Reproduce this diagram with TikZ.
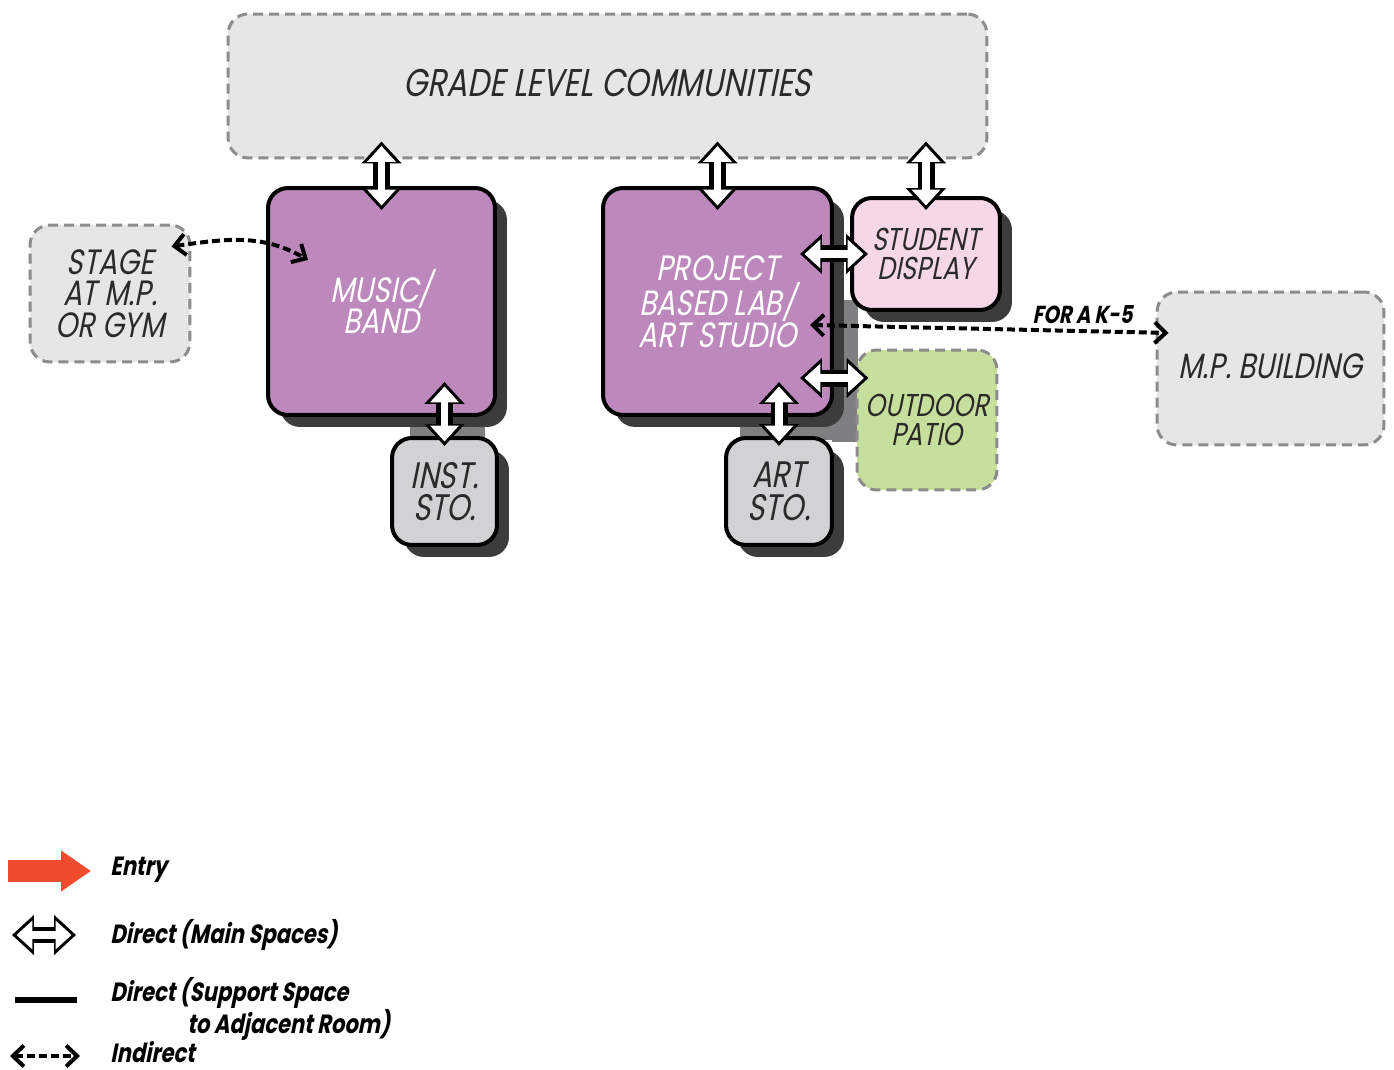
\documentclass[tikz,border=0pt]{standalone}
\usepackage{fontspec}
\setmainfont{Poppins}
\newfontfamily\roomfont{Poppins}[FakeSlant=0.2,FakeStretch=0.8]
\usetikzlibrary{arrows.meta,shadows,positioning}

\definecolor{boxgray}{HTML}{E6E6E6}
\definecolor{dashgray}{HTML}{8C8C8C}
\definecolor{roompurple}{HTML}{BD89BD}
\definecolor{shadowgray}{HTML}{3C3C3C}
\definecolor{midgray}{HTML}{7F7F82}
\definecolor{stogray}{HTML}{D1D2D4}
\definecolor{displaypink}{HTML}{F5D7E7}
\definecolor{patiogreen}{HTML}{C6DF9C}
\definecolor{entryorange}{HTML}{EF4B2C}
\definecolor{inkgray}{HTML}{2A2A2A}

\tikzset{
  room/.style={draw=black, line width=0.08cm, rounded corners=0.4cm, align=center,
    inner sep=0pt, text=inkgray,
    general shadow={fill=shadowgray, shadow xshift=0.24cm, shadow yshift=-0.24cm}},
  mainroom/.style={room, fill=roompurple, text=white,
    font={\roomfont\fontsize{20}{18}\selectfont}},
  storoom/.style={room, fill=stogray, font={\roomfont\fontsize{21}{18.5}\selectfont}},
  outside/.style={draw=dashgray, line width=0.06cm, dash pattern=on 0.2cm off 0.12cm,
    rounded corners=0.4cm, fill=boxgray, align=center, inner sep=0pt, text=inkgray,
    font={\roomfont\fontsize{20}{18}\selectfont}},
  direct/.style={line width=0.34cm, black,
    {Triangle[length=0.44cm,width=0.78cm]}-{Triangle[length=0.44cm,width=0.78cm]},
    postaction={draw=white, line width=0.15cm, shorten >=0.09cm, shorten <=0.09cm,
      {Triangle[length=0.32cm,width=0.56cm]}-{Triangle[length=0.32cm,width=0.56cm]}}},
  indirect/.style={line width=0.08cm, black, dash pattern=on 0.16cm off 0.08cm,
    {Straight Barb[length=0.22cm,width=0.42cm,line width=0.08cm]}-{Straight Barb[length=0.22cm,width=0.42cm,line width=0.08cm]}},
  legtext/.style={anchor=west, inner sep=0pt, align=left,
    font={\roomfont\bfseries\fontsize{15}{14}\selectfont}}
}

\begin{document}
\begin{tikzpicture}[x=0.02cm, y=-0.02cm]
  \useasboundingbox (0,0) rectangle (1394,1070);

  % soft shadow between the rooms
  \fill[midgray] (832,300) rectangle (858,442);
  \fill[midgray] (410,415) rectangle (485,440);
  \fill[midgray] (740,415) rectangle (832,440);

  % rooms
  \node[outside, minimum width=15.18cm, minimum height=2.88cm,
    font={\roomfont\fontsize{22}{20}\selectfont}] (grade) at (607.5,86) {\raisebox{0.12cm}{GRADE LEVEL COMMUNITIES}};
  \node[outside, minimum width=3.2cm, minimum height=2.74cm] (stage) at (110,293.5) {STAGE\\AT M.P.\\OR GYM};
  \node[mainroom, minimum width=4.54cm, minimum height=4.54cm] (music) at (381.5,301.5) {MUSIC/\\BAND};
  \node[storoom, minimum width=2.1cm, minimum height=2.14cm] (inst) at (444.5,491.5) {INST.\\STO.};
  \node[mainroom, minimum width=4.58cm, minimum height=4.54cm] (lab) at (717.5,301.5) {PROJECT\\BASED LAB/\\ART STUDIO};
  \node[room, fill=displaypink, minimum width=2.96cm, minimum height=2.24cm,
    font={\roomfont\fontsize{18}{16.5}\selectfont}] (display) at (926,254) {STUDENT\\DISPLAY};
  \node[outside, fill=patiogreen, minimum width=2.8cm, minimum height=2.8cm,
    font={\roomfont\fontsize{18}{16.5}\selectfont}] (patio) at (927,420) {OUTDOOR\\PATIO};
  \node[storoom, minimum width=2.12cm, minimum height=2.14cm] (artsto) at (779,491.5) {ART\\STO.};
  \node[outside, minimum width=4.54cm, minimum height=3.06cm] (mp) at (1270.5,368.5) {\raisebox{0.1cm}{M.P. BUILDING}};

  % direct links
  \draw[direct] ([yshift=0.36cm]music.north |- grade.south) -- ([yshift=-0.48cm]music.north);
  \draw[direct] ([yshift=0.36cm]lab.north |- grade.south) -- ([yshift=-0.48cm]lab.north);
  \draw[direct] ([yshift=0.36cm]display.north |- grade.south) -- ([yshift=-0.28cm]display.north);
  \draw[direct] ([yshift=-0.2cm]inst.north) -- ([yshift=0.7cm]inst.north |- music.south);
  \draw[direct] ([yshift=-0.2cm]artsto.north) -- ([yshift=0.7cm]artsto.north |- lab.south);
  \draw[direct] ([xshift=-0.68cm]lab.east |- display.west) -- ([xshift=0.36cm]display.west);
  \draw[direct] ([xshift=-0.68cm,yshift=0.84cm]lab.east |- patio.west) -- ([xshift=0.26cm,yshift=0.84cm]patio.west);

  % indirect links
  \draw[indirect] ([xshift=-0.4cm,yshift=-0.46cm]stage.north east) to[out=8,in=150]
    ([xshift=0.84cm,yshift=-1.48cm]music.north west);
  \draw[indirect] ([xshift=-0.48cm,yshift=-0.47cm]lab.east) -- ([xshift=0.26cm,yshift=0.71cm]mp.west)
    node[pos=0.76, above=3pt, inner sep=0pt,
      font={\roomfont\bfseries\fontsize{14}{14}\selectfont}] (k5) {FOR A K-5};

  % legend
  \coordinate (entryA) at (8,871);
  \coordinate (entryB) at (91,871);
  \coordinate (mainA) at (12,935);
  \coordinate (mainB) at (76,935);
  \coordinate (supA) at (15,1000);
  \coordinate (supB) at (77,1000);
  \coordinate (indA) at (10,1056);
  \coordinate (indB) at (80,1056);
  \draw[entryorange, line width=0.44cm, -{Triangle[length=0.6cm,width=0.78cm]}] (entryA) -- (entryB);
  \draw[direct] (mainA) -- (mainB);
  \draw[line width=0.12cm] (supA) -- (supB);
  \draw[indirect] (indA) -- (indB);
  \node[legtext] (entrytext) at (110,870) {Entry};
  \node[legtext] (maintext) at (110,935) {Direct (Main Spaces)};
  \node[legtext] (suptext) at (110,1009) {Direct (Support Space\\\hspace*{1.54cm}to Adjacent Room)};
  \node[legtext] (indtext) at (110,1052) {Indirect};
\end{tikzpicture}
\end{document}
